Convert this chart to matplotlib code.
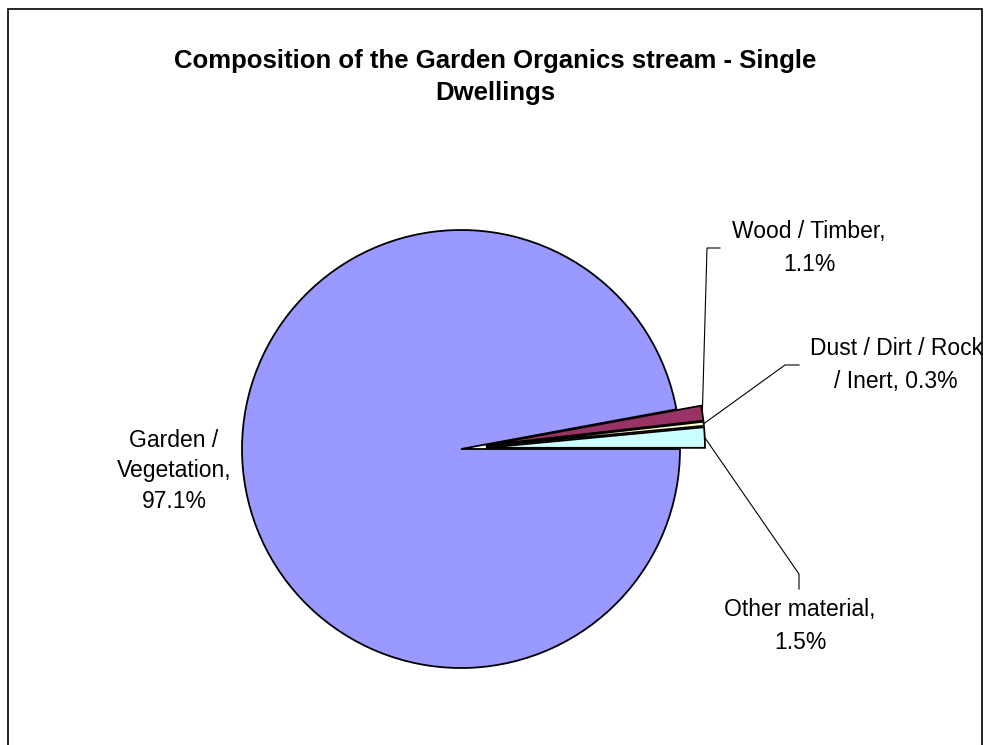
import numpy as np
import matplotlib
matplotlib.use('Agg')
import matplotlib.pyplot as plt
from matplotlib.patches import Rectangle

plt.rcParams['font.family'] = ['Liberation Sans', 'DejaVu Sans']

# data
categories = ['Other material', 'Dust / Dirt / Rock / Inert', 'Wood / Timber', 'Garden / Vegetation']
values = [1.5, 0.3, 1.1, 97.1]
colors = ['#CCFFFF', '#FFFFCC', '#993366', '#9999FF']
label_texts = ['Other material,\n1.5%', 'Dust / Dirt / Rock\n/ Inert, 0.3%',
               'Wood / Timber,\n1.1%', 'Garden /\nVegetation,\n97.1%']

W, H = 990, 745
R = 219
explode = [25, 25, 25, 0]   # pie() shifts wedges by this many data units

fig = plt.figure(figsize=(W / 100, H / 100), dpi=100)
ax = fig.add_axes([0, 0, 1, 1])

def py(y):
    # pixel row (from top) -> data y
    return H - y

wedges, _ = ax.pie(values, colors=colors, explode=explode, startangle=0,
                   counterclock=True, center=(461, py(449)), radius=R,
                   wedgeprops=dict(edgecolor='black', linewidth=1.3),
                   frame=True)
ax.set_xlim(0, W)
ax.set_ylim(0, H)
ax.set_aspect('equal')
ax.axis('off')

def edge_point(w):
    a = np.deg2rad((w.theta1 + w.theta2) / 2)
    cx, cy = w.center
    return cx + w.r * np.cos(a), cy + w.r * np.sin(a)

# label positions (pixels) and leader bends
label_pos = [(800, 626), (896, 365), (809, 248), (174, 471)]
spacing = [1.55, 1.55, 1.55, 1.4]
leaders = [[(799, 574), (799, 589)],
           [(785, 365), (799, 365)],
           [(707, 248), (720, 248)],
           None]

for w, txt, (lx, ly), ls, pts in zip(wedges, label_texts, label_pos, spacing, leaders):
    ax.text(lx, py(ly), txt, ha='center', va='center', fontsize=16.5,
            linespacing=ls, color='black')
    if pts:
        x0, y0 = edge_point(w)
        xs = [x0] + [p[0] for p in pts]
        ys = [y0] + [py(p[1]) for p in pts]
        ax.plot(xs, ys, color='black', linewidth=0.8)

ax.text(495, py(77), 'Composition of the Garden Organics stream - Single\nDwellings',
        ha='center', va='center', fontsize=18.5, fontweight='bold', linespacing=1.45)

ax.add_patch(Rectangle((8, -20), 974, py(9) + 20, fill=False,
                       edgecolor='black', linewidth=1.2, clip_on=False))

fig.savefig('out.png', dpi=100)
